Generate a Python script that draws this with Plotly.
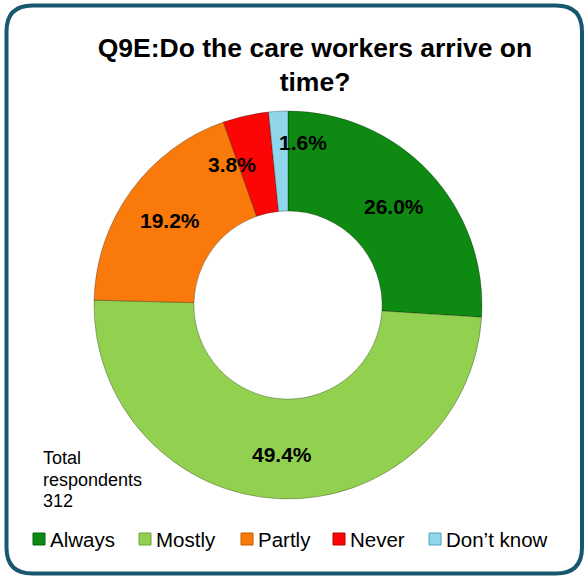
import plotly.graph_objects as go

# Survey responses
categories = ["Always", "Mostly", "Partly", "Never", "Don\u2019t know"]
percentages = [26.0, 49.4, 19.2, 3.8, 1.6]
total_respondents = 312
title_text = "Q9E:Do the care workers arrive on<br>time?"
note_lines = ["Total", "respondents", str(total_respondents)]

colors = ["#0e8a12", "#92d050", "#f97a0a", "#fb0505", "#8fd6ea"]
edge_colors = ["#08600b", "#6aa535", "#c75a00", "#b80000", "#4fa6c2"]

W, H = 585, 577
FONT = "Liberation Sans, Arial, sans-serif"


def px(x):
    return x / W


def py(y):
    return 1 - y / H


# donut geometry (pixels)
cx, cy, r_out = 288, 305, 194

fig = go.Figure(
    go.Pie(
        labels=categories,
        values=percentages,
        hole=0.485,
        sort=False,
        direction="clockwise",
        rotation=0,
        marker=dict(colors=colors, line=dict(color="rgba(0,0,0,0.28)", width=1)),
        textinfo="none",
        hoverinfo="label+percent",
        showlegend=False,
        domain=dict(x=[px(cx - r_out), px(cx + r_out)],
                    y=[py(cy + r_out), py(cy - r_out)]),
    )
)

annotations = []

# percentage labels on the ring (label centres in pixels)
label_centres = [(394, 206), (282, 454), (170, 220), (232, 164), (303, 142)]
for val, (lx, ly) in zip(percentages, label_centres):
    annotations.append(dict(
        x=px(lx), y=py(ly), xref="paper", yref="paper",
        text=f"<b>{val:.1f}%</b>", showarrow=False,
        xanchor="center", yanchor="middle",
        font=dict(family=FONT, size=21, color="#000000"),
    ))

# respondents note, one line at a time
note_centres = [458, 479.5, 500.5]
for line, ly in zip(note_lines, note_centres):
    annotations.append(dict(
        x=px(41), y=py(ly), xref="paper", yref="paper",
        text=line, showarrow=False,
        xanchor="left", yanchor="middle", align="left",
        font=dict(family=FONT, size=18, color="#000000"),
    ))

# legend drawn as swatches + text
shapes = []
legend_left = [33, 139, 241, 333, 429]
legend_y, sw = 539, 12
for name, col, edge, lx in zip(categories, colors, edge_colors, legend_left):
    shapes.append(dict(
        type="rect", xref="paper", yref="paper",
        x0=px(lx), x1=px(lx + sw), y0=py(legend_y + sw / 2), y1=py(legend_y - sw / 2),
        fillcolor=col, line=dict(color=edge, width=1),
    ))
    annotations.append(dict(
        x=px(lx + sw + 3), y=py(legend_y), xref="paper", yref="paper",
        text=name, showarrow=False, xanchor="left", yanchor="middle",
        font=dict(family=FONT, size=20.5, color="#000000"),
    ))

# rounded frame around the chart
bx0, by0, bx1, by1, rad = 6.5, 5.5, 582, 573.5, 26


def P(x, y):
    return f"{px(x):.5f},{py(y):.5f}"


frame_path = (
    f"M {P(bx0 + rad, by0)} L {P(bx1 - rad, by0)} Q {P(bx1, by0)} {P(bx1, by0 + rad)} "
    f"L {P(bx1, by1 - rad)} Q {P(bx1, by1)} {P(bx1 - rad, by1)} "
    f"L {P(bx0 + rad, by1)} Q {P(bx0, by1)} {P(bx0, by1 - rad)} "
    f"L {P(bx0, by0 + rad)} Q {P(bx0, by0)} {P(bx0 + rad, by0)} Z"
)
shapes.append(dict(type="path", xref="paper", yref="paper", path=frame_path,
                   line=dict(color="#17576f", width=4), fillcolor="rgba(0,0,0,0)"))

fig.update_layout(
    width=W, height=H,
    margin=dict(l=0, r=0, t=0, b=0),
    paper_bgcolor="#ffffff",
    plot_bgcolor="#ffffff",
    title=dict(
        text=f"<b>{title_text}</b>",
        x=px(315), xanchor="center",
        y=py(57), yanchor="middle", yref="container",
        font=dict(family=FONT, size=26.5, color="#000000"),
    ),
    annotations=annotations,
    shapes=shapes,
)

fig.write_html("out.html")
